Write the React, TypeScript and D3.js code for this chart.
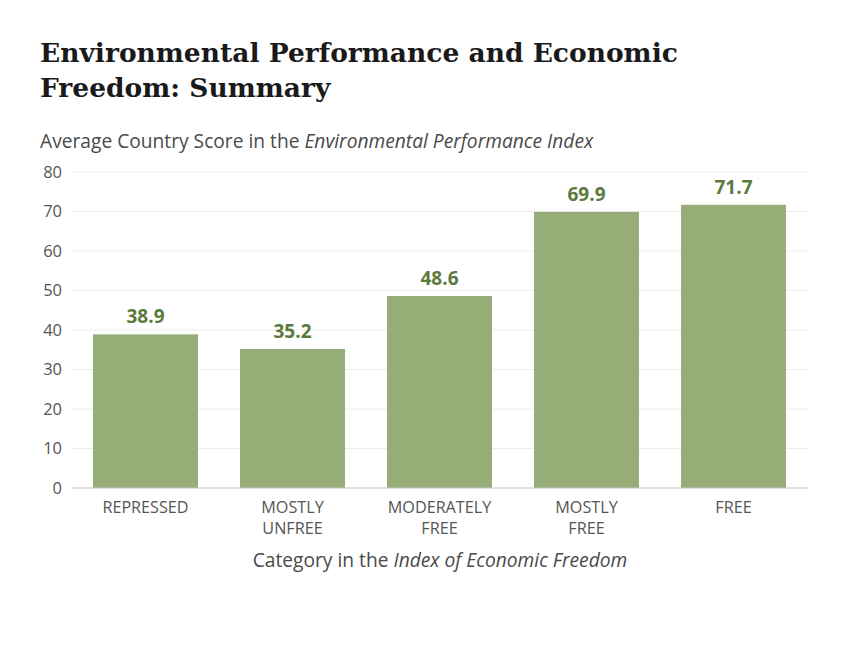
import React from "react";
import * as d3 from "d3";

const categories = ["REPRESSED", "MOSTLY\nUNFREE", "MODERATELY\nFREE", "MOSTLY\nFREE", "FREE"];
const values = [38.9, 35.2, 48.6, 69.9, 71.7];
const yTicks = [0, 10, 20, 30, 40, 50, 60, 70, 80];

const W = 850, H = 645;
const left = 72, right = 807, top = 172, bottom = 488;

export default function App() {
  const x = d3.scaleBand<string>().domain(categories).range([left, right]).paddingInner(0.286).paddingOuter(0.143);
  const y = d3.scaleLinear().domain([0, 80]).range([bottom, top]);
  const sans = "'Open Sans', 'Noto Sans', sans-serif";
  return (
    <svg width={W} height={H} style={{ position: "absolute", left: 0, top: 0, background: "#fff" }}>
      <text x={40} y={62} fontFamily="'DejaVu Serif', serif" fontWeight="bold" fontSize={26.5} fill="#1a1a1a">Environmental Performance and Economic</text>
      <text x={40} y={97} fontFamily="'DejaVu Serif', serif" fontWeight="bold" fontSize={26.5} fill="#1a1a1a">Freedom: Summary</text>
      <text x={40} y={148} fontFamily={sans} fontSize={19.2} fill="#4a4a4a">
        Average Country Score in the <tspan fontStyle="italic">Environmental Performance Index</tspan>
      </text>
      {yTicks.map((t) => (
        <g key={t}>
          {t > 0 && <line x1={left} x2={right + 1} y1={y(t)} y2={y(t)} stroke="#ececec" strokeWidth={1} />}
          <text x={62} y={y(t)} dy="0.35em" textAnchor="end" fontFamily={sans} fontSize={16.5} fill="#555">{t}</text>
        </g>
      ))}
      {categories.map((c, i) => (
        <g key={c}>
          <rect x={x(c)} y={y(values[i])} width={x.bandwidth()} height={bottom - y(values[i])} fill="#97ad78" />
          <text x={x(c)! + x.bandwidth() / 2} y={y(values[i]) - 11} textAnchor="middle" fontFamily={sans} fontWeight="bold" fontSize={19} fill="#5b7a3c">{values[i].toFixed(1)}</text>
          {c.split("\n").map((line, j) => (
            <text key={j} x={x(c)! + x.bandwidth() / 2} y={513 + j * 20.5} textAnchor="middle" fontFamily={sans} fontSize={16.2} fill="#555">{line}</text>
          ))}
        </g>
      ))}
      <line x1={left} x2={right + 1} y1={bottom} y2={bottom} stroke="#c4c4c4" strokeWidth={1.2} />
      <text x={440} y={567} textAnchor="middle" fontFamily={sans} fontSize={19.2} fill="#4a4a4a">
        Category in the <tspan fontStyle="italic">Index of Economic Freedom</tspan>
      </text>
    </svg>
  );
}
